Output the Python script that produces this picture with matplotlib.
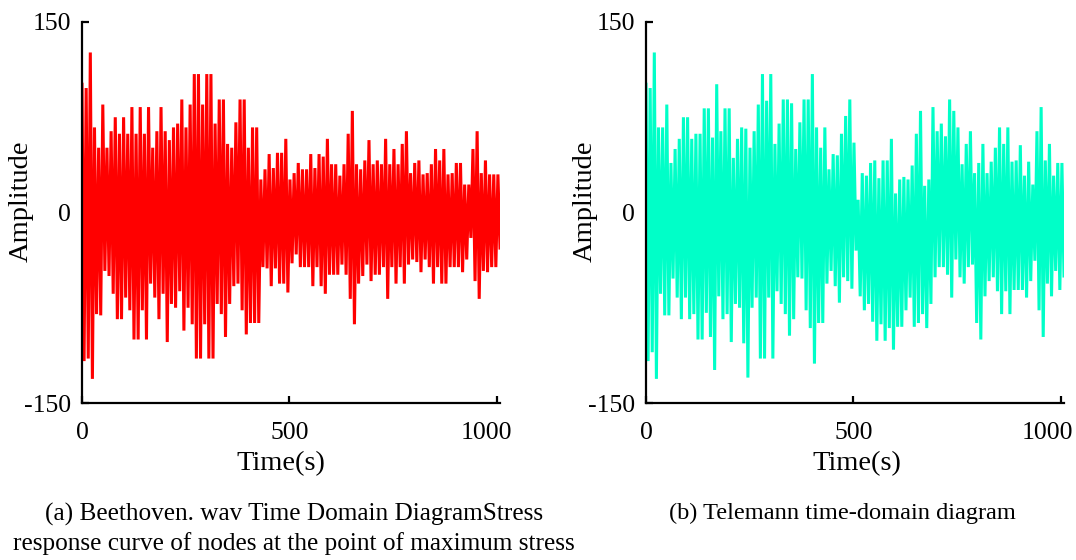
import numpy as np
import matplotlib
matplotlib.use("Agg")
import matplotlib.pyplot as plt
import matplotlib.transforms as mtransforms

plt.rcParams['font.family'] = ['Liberation Serif', 'DejaVu Serif']
plt.rcParams['axes.unicode_minus'] = False

# peak values, one positive and one negative peak every ~10 s
upper_a = [101, 98, 126, 67, 51, 85, 51, 64, 75, 62,
           75, 62, 83, 62, 83, 62, 83, 51, 64, 83,
           64, 57, 67, 70, 89, 67, 85, 109, 109, 85,
           109, 109, 70, 89, 89, 54, 51, 71, 89, 89,
           51, 67, 67, 26, 34, 46, 35, 47, 47, 58,
           26, 31, 39, 34, 34, 46, 35, 46, 44, 58,
           38, 38, 29, 38, 62, 80, 38, 34, 41, 57,
           38, 41, 38, 58, 38, 50, 38, 54, 64, 31,
           39, 41, 30, 31, 38, 50, 41, 50, 30, 31,
           39, 39, 22, 22, 50, 64, 31, 41, 30, 30,
           30]
lower_a = [-117, -115, -131, -80, -81, -46, -50, -64, -84, -84,
           -67, -77, -100, -100, -77, -100, -56, -67, -84, -64,
           -102, -72, -75, -62, -93, -75, -88, -115, -115, -88,
           -115, -115, -72, -80, -98, -72, -58, -56, -77, -96,
           -87, -87, -87, -43, -44, -58, -44, -56, -56, -63,
           -40, -33, -43, -43, -43, -58, -43, -58, -64, -49,
           -49, -49, -41, -49, -68, -88, -56, -50, -41, -54,
           -49, -49, -43, -68, -43, -56, -43, -56, -41, -37,
           -39, -47, -37, -43, -56, -43, -56, -56, -43, -43,
           -43, -47, -37, -20, -54, -68, -46, -47, -43, -43,
           -28]

upper_b = [101, 98, 126, 67, 67, 85, 39, 50, 58, 75,
           75, 58, 62, 62, 82, 82, 59, 101, 64, 82,
           82, 43, 58, 67, 66, 51, 64, 85, 109, 88,
           109, 54, 70, 89, 89, 86, 50, 71, 89, 89,
           109, 67, 51, 67, 34, 46, 45, 62, 76, 89,
           55, 10, 31, 29, 39, 41, 27, 41, 41, 58,
           15, 26, 28, 26, 37, 62, 80, 21, 26, 83,
           64, 70, 60, 89, 80, 67, 38, 54, 64, 31,
           39, 54, 31, 40, 51, 67, 54, 67, 40, 41,
           53, 29, 40, 22, 64, 83, 41, 54, 29, 39,
           39]
lower_b = [-117, -110, -131, -64, -81, -81, -52, -67, -84, -67,
           -84, -80, -100, -100, -79, -98, -124, -66, -84, -80,
           -102, -72, -75, -103, -130, -75, -67, -115, -115, -67,
           -115, -62, -72, -80, -97, -84, -51, -52, -77, -91,
           -119, -87, -87, -56, -46, -58, -71, -51, -54, -60,
           -30, -66, -77, -72, -86, -101, -88, -101, -91, -108,
           -90, -90, -77, -67, -90, -87, -80, -91, -72, -51,
           -43, -43, -49, -67, -37, -51, -56, -43, -41, -87,
           -100, -66, -54, -51, -62, -80, -62, -80, -61, -61,
           -61, -67, -54, -38, -77, -98, -56, -66, -46, -61,
           -50]

x_ticks = [0, 500, 1000]
y_ticks = [-150, 0, 150]
t_end = 1008

captions = ["(a) Beethoven. wav Time Domain DiagramStress\nresponse curve of nodes at the point of maximum stress",
            "(b) Telemann time-domain diagram"]


def signal(upper, lower):
    amp = np.column_stack([upper, lower]).ravel()
    t = np.linspace(0, t_end, len(amp))
    return t, amp


fig = plt.figure(figsize=(10.76, 5.6), dpi=100)
ax_a = fig.add_axes([82 / 1076, 157 / 560, 418 / 1076, 381 / 560])
ax_b = fig.add_axes([646 / 1076, 157 / 560, 418 / 1076, 381 / 560])

panels = [(ax_a, upper_a, lower_a, '#FF0000', 0.475, -10),
          (ax_b, upper_b, lower_b, '#00FFC8', 0.505, -13)]

for ax, up, lo, color, xl, shift in panels:
    t, amp = signal(up, lo)
    ax.plot(t, amp, color=color, lw=2.2, solid_joinstyle='miter')
    ax.set_xlim(0, t_end)
    ax.set_ylim(-150, 150)
    ax.set_xticks(x_ticks)
    ax.set_yticks(y_ticks)
    for s in ['top', 'right']:
        ax.spines[s].set_visible(False)
    for s in ['left', 'bottom']:
        ax.spines[s].set_linewidth(1.6)
    ax.tick_params(direction='in', length=5, width=1.6, labelsize=18.5)
    ax.tick_params(axis='x', pad=14)
    ax.tick_params(axis='y', pad=8)
    ax.set_xlabel('Time(s)', fontsize=20.5)
    ax.set_ylabel('Amplitude', fontsize=20.5)
    ax.xaxis.set_label_coords(xl, -0.125)
    ax.yaxis.set_label_coords(-0.115, 0.53)
    # the last x label sits a little left of its tick in the reference
    last = ax.get_xticklabels()[-1]
    last.set_transform(last.get_transform() +
                       mtransforms.ScaledTranslation(shift / 100, 0, fig.dpi_scale_trans))

fig.text(294 / 1076, 1 - 503 / 560, captions[0], ha='center', va='top',
         fontsize=18.2, linespacing=1.35)
fig.text(842 / 1076, 1 - 503 / 560, captions[1], ha='center', va='top',
         fontsize=17.6, linespacing=1.35)

fig.savefig('out.png', dpi=100)
